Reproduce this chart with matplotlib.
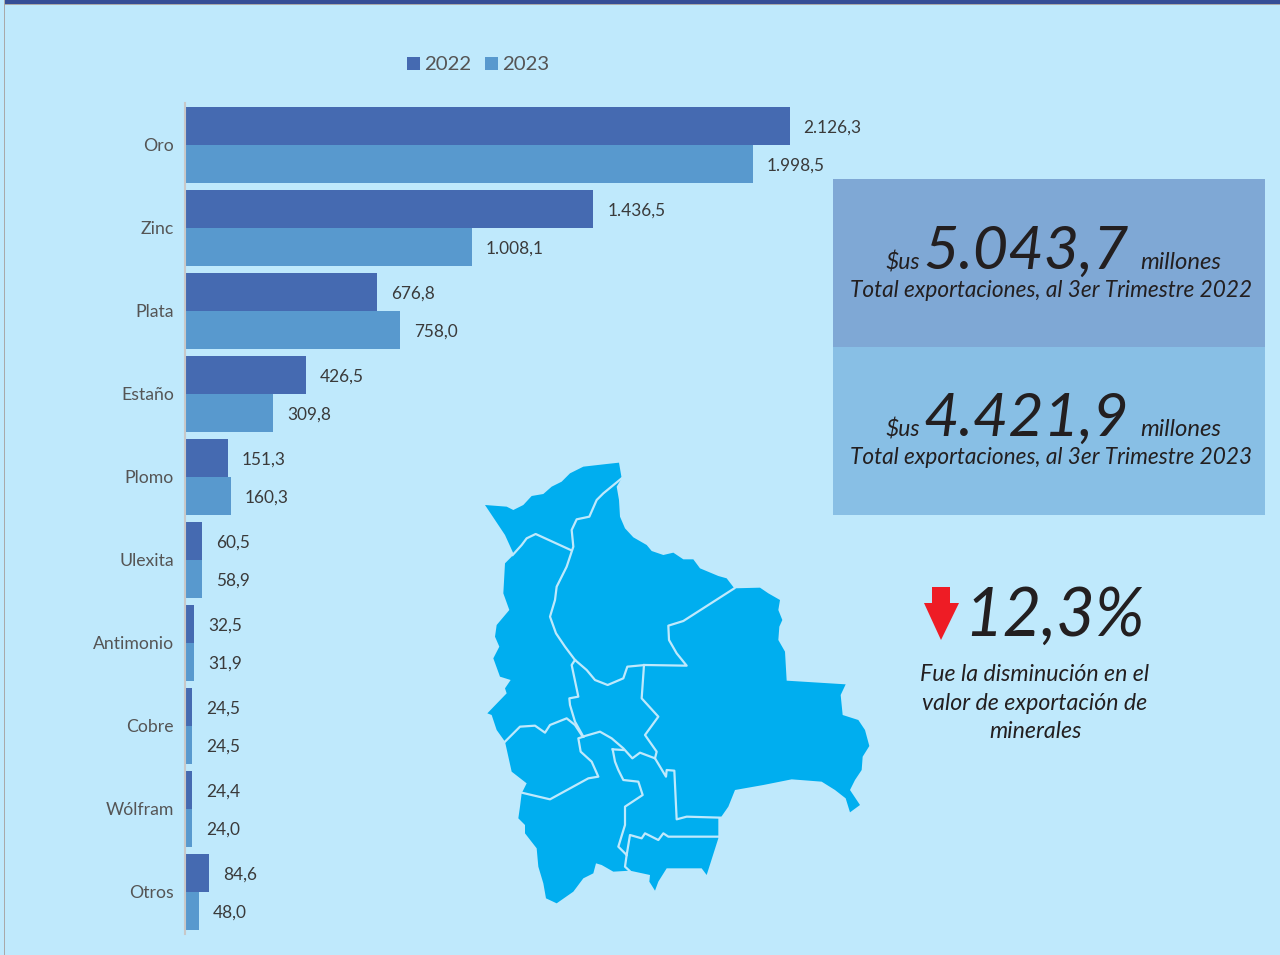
import matplotlib
matplotlib.use("Agg")
import matplotlib.pyplot as plt
from matplotlib.patches import Rectangle, Polygon
from matplotlib.transforms import ScaledTranslation
import numpy as np

plt.rcParams['font.family'] = ['Lato', 'DejaVu Sans']

categories = ["Oro", "Zinc", "Plata", "Estaño", "Plomo", "Ulexita", "Antimonio", "Cobre", "Wólfram", "Otros"]
values_2022 = [2126.3, 1436.5, 676.8, 426.5, 151.3, 60.5, 32.5, 24.5, 24.4, 84.6]
values_2023 = [1998.5, 1008.1, 758.0, 309.8, 160.3, 58.9, 31.9, 24.5, 24.0, 48.0]
labels_2022 = ["2.126,3", "1.436,5", "676,8", "426,5", "151,3", "60,5", "32,5", "24,5", "24,4", "84,6"]
labels_2023 = ["1.998,5", "1.008,1", "758,0", "309,8", "160,3", "58,9", "31,9", "24,5", "24,0", "48,0"]
series_names = ["2022", "2023"]

BG = "#BFE9FC"
C22 = "#456AB1"
C23 = "#5899CE"
TXT = "#231F20"
W, H = 1280, 955

# Bolivia outline and internal borders (decoration, traced in crop pixels)
map_outline = [(45,165),(110,170),(130,180),(160,165),(185,138),(220,132),(245,110),(275,95),(300,70),(340,50),(410,42),(447,38),(455,85),(440,110),(447,150),(450,200),(465,235),(490,262),(530,285),(545,303),(580,315),(610,308),(640,328),(670,328),(690,355),(745,378),(770,385),(793,415),(870,413),(895,430),(930,450),(925,480),(937,510),(928,530),(925,570),(945,605),(950,692),(1127,703),(1112,735),(1118,795),(1165,810),(1185,840),(1198,888),(1178,920),(1175,960),(1155,990),(1140,1020),(1170,1065),(1140,1087),(1127,1045),(1095,1020),(1055,995),(965,988),(880,1005),(795,1020),(775,1070),(752,1103),(745,1103),(745,1165),(710,1275),(695,1255),(590,1255),(565,1295),(555,1322),(538,1295),(540,1275),(480,1262),(430,1265),(395,1245),(378,1240),(370,1270),(340,1285),(310,1325),(260,1360),(228,1345),(220,1300),(205,1250),(200,1195),(165,1150),(165,1125),(145,1105),(150,1070),(155,1030),(170,1000),(125,965),(105,875),(80,840),(65,795),(52,790),(110,730),(105,715),(122,690),(90,680),(70,625),(88,590),(75,560),(80,525),(118,480),(100,430),(105,340),(125,320),(130,310),(105,255)]
map_borders = [
    [(128,315),(155,285),(170,265),(197,252),(302,300)],
    [(455,85),(400,130),(380,150),(358,200),(320,208),(305,240),(310,290),(290,350),(260,410),(255,450),(240,500),(258,550),(285,590),(315,630),(350,660),(375,690),(413,705),(460,685),(472,650),(525,645),(650,647),(620,610),(597,570),(595,527),(640,513),(793,415)],
    [(315,630),(305,645),(325,740),(298,745),(300,765),(315,815),(340,860)],
    [(105,875),(150,830),(195,827),(225,848),(240,825),(290,805),(315,825),(338,860),(390,845),(425,865),(460,895),(487,925),(510,908),(555,925),(560,905),(525,855),(565,800),(515,745),(522,645)],
    [(555,925),(588,980),(590,960),(613,962),(620,1108),(650,1100),(752,1103)],
    [(155,1028),(240,1048),(355,985),(385,980),(365,935),(332,905),(325,865),(340,860)],
    [(428,898),(460,900)],
    [(428,898),(435,935),(445,960),(460,990),(505,995),(518,1035),(465,1070),(465,1125),(445,1190),(470,1215),(465,1250),(478,1262)],
    [(470,1215),(480,1155),(515,1165),(525,1150),(565,1170),(580,1150),(595,1160),(745,1160)],
]

def crop(pts):
    return [(470 + x / 3, 450 + y / 3) for x, y in pts]

fig = plt.figure(figsize=(W / 100, H / 100), dpi=100, facecolor=BG)

# pixel-coordinate overlay for panel furniture
ov = fig.add_axes([0, 0, 1, 1], zorder=0)
ov.set_xlim(0, W); ov.set_ylim(H, 0); ov.axis("off")
ov.add_patch(Rectangle((5, 0), W - 5, 4, fc="#354E96", ec="none"))
ov.add_patch(Rectangle((5, 4), W - 5, 1, fc="#A9A9A9", ec="none"))
ov.add_patch(Rectangle((4, 0), 1.3, H, fc="#A9A9A9", ec="none"))

ov.add_patch(Rectangle((833, 179), 432, 168, fc="#7FA8D5", ec="none"))
ov.add_patch(Rectangle((833, 347), 432, 168, fc="#88BFE5", ec="none"))

for y0, big, yr in [(0, "5.043,7", "2022"), (167, "4.421,9", "2023")]:
    ov.text(885.5, 269.5 + y0, "$us", fontsize=16.5, style="italic", color=TXT, va="baseline", ha="left")
    ov.text(923.5, 269 + y0, big, fontsize=44, style="italic", color=TXT, va="baseline", ha="left")
    ov.text(1140.5, 268.5 + y0, "millones", fontsize=17.2, style="italic", color=TXT, va="baseline", ha="left")
    ov.text(850, 296.5 + y0, "Total exportaciones, al 3er Trimestre " + yr, fontsize=16.3, style="italic",
            color=TXT, va="baseline", ha="left")

ov.add_patch(Polygon([(932, 587), (950, 587), (950, 603), (959, 603), (941, 640), (924, 603), (932, 603)],
                     fc="#EE1C25", ec="none"))
ov.text(964, 636, "12,3%", fontsize=48, style="italic", color=TXT, va="baseline", ha="left")
for yy, line in [(680.5, "Fue la disminución en el"), (709.5, "valor de exportación de"), (737.5, "minerales")]:
    ov.text(1035, yy, line, fontsize=16.7, style="italic", color=TXT, va="baseline", ha="center")

ov.add_patch(Polygon(crop(map_outline), fc="#00AEEF", ec="none"))
for b in map_borders:
    pts = np.array(crop(b))
    ov.plot(pts[:, 0], pts[:, 1], color="#BFE9FC", lw=1.6, solid_joinstyle="round")

# bar chart
x0, x1 = 185, 1000
y_top, y_bot = 103.5, 933.5
ax = fig.add_axes([x0 / W, 1 - y_bot / H, (x1 - x0) / W, (y_bot - y_top) / H], zorder=1)
ax.patch.set_alpha(0)
ax.set_xlim(0, (x1 - x0) / 0.2843)
n = len(categories)
ax.set_ylim(n - 0.5, -0.5)
pos = np.arange(n)
h = 0.458
b22 = ax.barh(pos - h / 2, values_2022, height=h, color=C22, label=series_names[0])
b23 = ax.barh(pos + h / 2, values_2023, height=h, color=C23, label=series_names[1])
pad_pt = 10
for cont, labs in [(b22, labels_2022), (b23, labels_2023)]:
    for ann in ax.bar_label(cont, labels=labs, padding=pad_pt, fontsize=12.4, color="#3A3A3A"):
        ann.xyann = (pad_pt, -1.5)

ax.set_yticks(pos, categories, fontsize=12.7, color="#555555")
ax.tick_params(axis="y", length=0, pad=8)
shift = ScaledTranslation(0, 0.5 / 100, fig.dpi_scale_trans)
for t in ax.get_yticklabels():
    t.set_transform(t.get_transform() + shift)
ax.xaxis.set_visible(False)
for s in ["top", "right", "bottom"]:
    ax.spines[s].set_visible(False)
ax.spines["left"].set_color("#C8C8C8")
ax.spines["left"].set_linewidth(1.5)

ax.legend(handles=[b22, b23], ncol=2, frameon=False, fontsize=14.7, labelcolor="#555555",
          loc="center", bbox_to_anchor=(478 / W, 1 - 65 / H), bbox_transform=fig.transFigure,
          handlelength=0.64, handleheight=0.64, handletextpad=0.2, columnspacing=0.64)

fig.savefig("out.png", dpi=100, facecolor=BG)
